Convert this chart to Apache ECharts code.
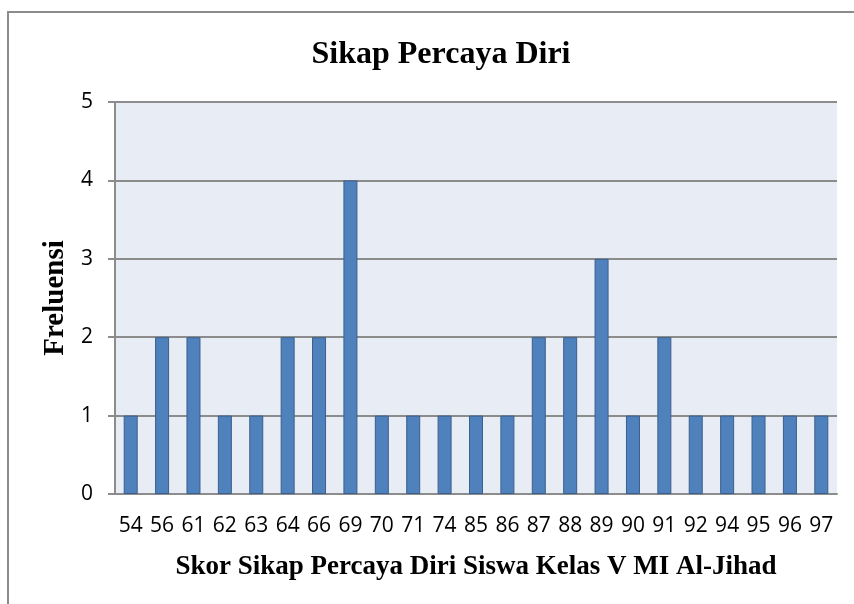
<!DOCTYPE html>
<html>
<head>
<meta charset="utf-8">
<script src="https://cdn.jsdelivr.net/npm/echarts@6/dist/echarts.min.js"></script>
<style>
  html, body { margin: 0; padding: 0; background: #fff; }
  #chart { width: 854px; height: 604px; }
</style>
</head>
<body>
<div id="chart"></div>
<script>
// skor dan frekuensi
const scores = ['54', '56', '61', '62', '63', '64', '66', '69', '70', '71', '74', '85',
  '86', '87', '88', '89', '90', '91', '92', '94', '95', '96', '97'];
const freq = [1, 2, 2, 1, 1, 2, 2, 4, 1, 1, 1, 1, 1, 2, 2, 3, 1, 2, 1, 1, 1, 1, 1];

const chart = echarts.init(document.getElementById('chart'));

const labelFont = { fontFamily: 'Open Sans', fontSize: 21, color: '#000' };
const serifBold = { fontFamily: 'Liberation Serif', fontWeight: 'bold', color: '#000' };

chart.setOption({
  animation: false,
  title: {
    text: 'Sikap Percaya Diri',
    left: 436,
    top: 34,
    textAlign: 'center',
    textStyle: { ...serifBold, fontSize: 32 }
  },
  graphic: [{
    type: 'rect',
    shape: { x: 8, y: 12, width: 900, height: 700 },
    style: { fill: 'none', stroke: '#8c8c8c', lineWidth: 2 },
    silent: true
  }],
  grid: {
    left: 115, right: 17, top: 102, bottom: 110,
    show: true, backgroundColor: '#e7ecf5', borderWidth: 0
  },
  xAxis: {
    type: 'category',
    data: scores,
    name: 'Skor Sikap Percaya Diri Siswa Kelas V MI Al-Jihad',
    nameLocation: 'middle',
    nameGap: 60,
    nameTextStyle: { ...serifBold, fontSize: 27 },
    axisLine: { lineStyle: { color: '#8c8c8c', width: 2 } },
    axisTick: { show: false },
    axisLabel: { ...labelFont, margin: 22, interval: 0 }
  },
  yAxis: {
    type: 'value',
    min: 0, max: 5, interval: 1,
    name: 'Freluensi',
    nameLocation: 'middle',
    nameGap: 44,
    nameTextStyle: { ...serifBold, fontSize: 29 },
    axisLine: { show: true, lineStyle: { color: '#8c8c8c', width: 2 } },
    axisTick: { show: true, length: 7, lineStyle: { color: '#8c8c8c', width: 2 } },
    splitLine: { lineStyle: { color: '#8c8c8c', width: 2 } },
    axisLabel: { ...labelFont, margin: 22 }
  },
  series: [{
    type: 'bar',
    data: freq,
    barWidth: 14,
    itemStyle: { color: '#4f81bd', borderColor: '#3a5f8c', borderWidth: 1 }
  }]
});
</script>
</body>
</html>
